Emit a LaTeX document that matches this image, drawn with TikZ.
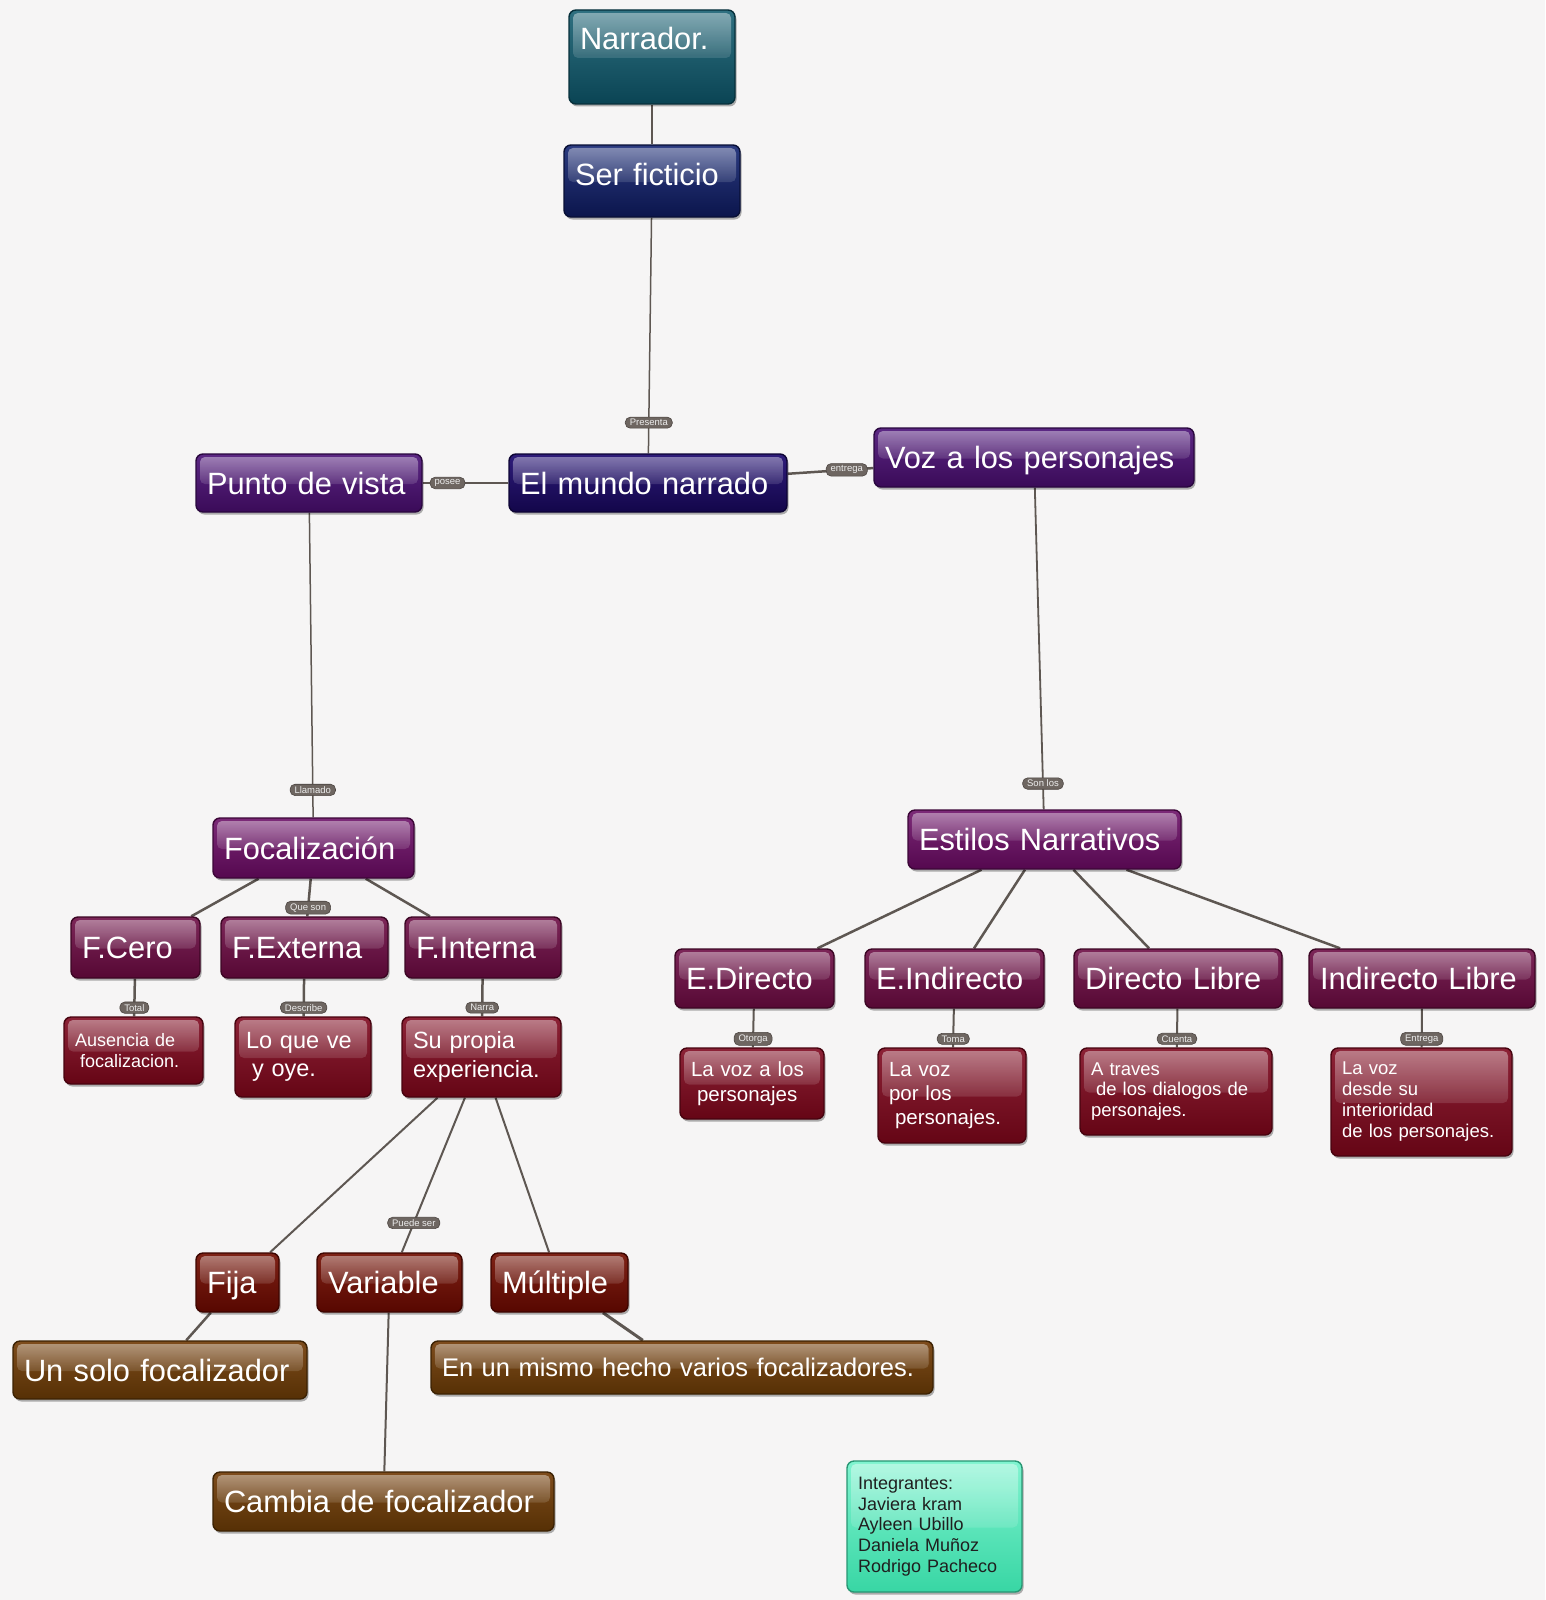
\documentclass[tikz,border=0pt]{standalone}
\usepackage{fontspec}
\setmainfont{Liberation Sans}
\usetikzlibrary{shadows,fadings,backgrounds}
\definecolor{bgC}{HTML}{F6F5F5}
\definecolor{tealT}{HTML}{2F7080}\definecolor{tealB}{HTML}{0A4454}
\definecolor{navyT}{HTML}{2B3B80}\definecolor{navyB}{HTML}{0B154C}
\definecolor{indT}{HTML}{2E1C7A}\definecolor{indB}{HTML}{13064A}
\definecolor{purT}{HTML}{5C2884}\definecolor{purB}{HTML}{3A0A58}
\definecolor{plumT}{HTML}{7C2A78}\definecolor{plumB}{HTML}{55084F}
\definecolor{wineT}{HTML}{7C2658}\definecolor{wineB}{HTML}{560834}
\definecolor{crimT}{HTML}{8C2236}\definecolor{crimB}{HTML}{650515}
\definecolor{rustT}{HTML}{7E2216}\definecolor{rustB}{HTML}{570700}
\definecolor{brownT}{HTML}{7E4C1C}\definecolor{brownB}{HTML}{563005}
\definecolor{mintT}{HTML}{80F4D0}\definecolor{mintB}{HTML}{38D6A4}
\definecolor{lineC}{HTML}{5E5752}
\definecolor{labC}{HTML}{6E6661}\definecolor{labD}{HTML}{4C4541}\definecolor{labT}{HTML}{EDEDED}
\newcommand{\fsz}[2]{\fontsize{#1}{#2}\selectfont}
\tikzset{
  box/.style={rectangle, rounded corners=7pt, line width=1.4pt, inner xsep=11pt, inner ysep=0pt,
    align=left, text=white,
    drop shadow={shadow xshift=1.5pt, shadow yshift=-2.5pt, opacity=0.3, fill=black},
    path picture={
      \fill[white, opacity=0.12, rounded corners=5pt]
        ([xshift=4pt,yshift=-3pt]path picture bounding box.north west) rectangle
        ([xshift=-4pt,yshift=-1pt]path picture bounding box.east);
      \fill[white, opacity=0.32, path fading=south, rounded corners=5pt]
        ([xshift=4pt,yshift=-3pt]path picture bounding box.north west) rectangle
        ([xshift=-4pt,yshift=-1pt]path picture bounding box.east);
    }},
  colr/.style 2 args={top color=#1, bottom color=#2, draw=#2!70!black},
  cteal/.style={colr={tealT}{tealB}},
  cnavy/.style={colr={navyT}{navyB}},
  cindigo/.style={colr={indT}{indB}},
  cpurple/.style={colr={purT}{purB}},
  cplum/.style={colr={plumT}{plumB}},
  cwine/.style={colr={wineT}{wineB}},
  ccrim/.style={colr={crimT}{crimB}},
  crust/.style={colr={rustT}{rustB}},
  cbrown/.style={colr={brownT}{brownB}},
  cmint/.style={colr={mintT}{mintB}, text=black!88},
  big/.style={font=\fsz{30.8}{35}, text height=22pt, text depth=0pt},
  conn/.style={draw=lineC, line width=#1},
  conn/.default=2pt,
  lab/.style={fill=labC, draw=labD, line width=0.6pt, rounded corners=5pt, text=labT,
    font=\fsz{9.5}{10}, inner xsep=4.5pt, inner ysep=2.2pt},
}
\begin{document}
\begin{tikzpicture}[x=1pt,y=-1pt]
\useasboundingbox (0,0) rectangle (1545,1600);
% level 0-2
\node[box,cteal,big,text width=144pt,minimum height=94pt,text depth=36pt] (narr) at (652,57) {Narrador.};
\node[box,cnavy,big,text width=154pt,minimum height=72pt,text depth=13pt] (ser) at (652,181) {Ser ficticio};
\node[box,cindigo,big,text width=256pt,minimum height=58pt] (mundo) at (648,483) {El mundo narrado};
\node[box,cpurple,big,text width=204pt,minimum height=58pt] (punto) at (309,483) {Punto de vista};
\node[box,cpurple,big,text width=298pt,minimum height=59pt] (voz) at (1034,457.5) {Voz a los personajes};
\node[box,cplum,big,text width=179pt,minimum height=60pt] (focal) at (313.5,848) {Focalización};
\node[box,cplum,big,text width=251pt,minimum height=59pt] (estilos) at (1044.5,839.5) {Estilos Narrativos};
% focalization types
\node[box,cwine,big,text width=107pt,minimum height=61pt] (fcero) at (135.5,947.5) {F.Cero};
\node[box,cwine,big,text width=145pt,minimum height=61pt] (fext) at (304.5,947.5) {F.Externa};
\node[box,cwine,big,text width=134pt,minimum height=61pt] (fint) at (483,947.5) {F.Interna};
\node[box,ccrim,font=\fsz{18}{21},text width=117pt,minimum height=67pt] (ausencia) at (133.5,1050.5) {Ausencia de\\\hspace*{5pt}focalizacion.};
\node[box,ccrim,font=\fsz{23.5}{28.5},text width=114pt,minimum height=80pt] (loque) at (303,1057) {Lo que ve\\\hspace*{6pt}y oye.};
\node[box,ccrim,font=\fsz{23.5}{28.5},text width=137pt,minimum height=80pt] (supropia) at (481.5,1057) {Su propia\\experiencia.};
% styles
\node[box,cwine,big,text width=137pt,minimum height=59pt] (edir) at (754.5,978.5) {E.Directo};
\node[box,cwine,big,text width=157pt,minimum height=59pt] (eind) at (954.5,978.5) {E.Indirecto};
\node[box,cwine,big,text width=186pt,minimum height=59pt] (dlib) at (1178,978.5) {Directo Libre};
\node[box,cwine,big,text width=204pt,minimum height=59pt] (ilib) at (1422,978.5) {Indirecto Libre};
\node[box,ccrim,font=\fsz{20.5}{24.5},text width=122pt,minimum height=71pt] (lavoza) at (752,1083.5) {La voz a los\\\hspace*{6pt}personajes};
\node[box,ccrim,font=\fsz{20.5}{24},text width=126pt,minimum height=95pt] (lavozb) at (952,1095.5) {La voz\\por los\\\hspace*{6pt}personajes.};
\node[box,ccrim,font=\fsz{18.5}{20.5},text width=170pt,minimum height=87pt] (atraves) at (1176,1091.5) {A traves\\\hspace*{5pt}de los dialogos de\\personajes.};
\node[box,ccrim,font=\fsz{18.5}{21},text width=159pt,minimum height=108pt] (lavozc) at (1421.5,1102) {La voz\\desde su\\interioridad\\de los personajes.};
% internal focalization
\node[box,crust,big,text width=61pt,minimum height=59pt] (fija) at (237.5,1282.5) {Fija};
\node[box,crust,big,text width=123pt,minimum height=59pt] (variable) at (389.5,1282.5) {Variable};
\node[box,crust,big,text width=115pt,minimum height=59pt] (multiple) at (559.5,1282.5) {Múltiple};
\node[box,cbrown,big,text width=272pt,minimum height=58pt] (unsolo) at (160,1370) {Un solo focalizador};
\node[box,cbrown,font=\fsz{25.5}{30},text height=18.3pt,text depth=0pt,text width=480pt,minimum height=53pt] (enun) at (682,1367.5) {En un mismo hecho varios focalizadores.};
\node[box,cbrown,big,text width=319pt,minimum height=59pt] (cambia) at (383.5,1501.5) {Cambia de focalizador};
% members
\node[box,cmint,font=\fsz{18}{20.8},text width=153pt,minimum height=131pt] (integ) at (934.5,1526.5) {Integrantes:\\Javiera kram\\Ayleen Ubillo\\Daniela Muñoz\\Rodrigo Pacheco};
\begin{pgfonlayer}{background}
\fill[bgC] (0,0) rectangle (1545,1600);
\draw[conn=2pt] (narr) -- (ser);
\draw[conn=1.5pt] (ser) -- node[lab,pos=0.87] (lpres) {Presenta} (mundo);
\draw[conn=2.5pt] (punto) -- node[lab,pos=0.29] (lposee) {posee} (mundo);
\draw[conn=2.5pt] (mundo) -- node[lab,pos=0.69] (lentr) {entrega} (voz);
\draw[conn=1.5pt] (punto) -- node[lab,pos=0.91] (lllam) {Llamado} (focal);
\draw[conn=1.8pt] (voz) -- node[lab,pos=0.92] (lson) {Son los} (estilos);
\draw[conn=2.5pt] (focal) -- (fcero);
\draw[conn=2.5pt] (focal) -- node[lab,pos=0.77] (lque) {Que son} (fext);
\draw[conn=2.5pt] (focal) -- (fint);
\draw[conn=2.5pt] (fcero) -- node[lab,pos=0.77] (ltot) {Total} (ausencia);
\draw[conn=2.5pt] (fext) -- node[lab,pos=0.77] (ldes) {Describe} (loque);
\draw[conn=2.5pt] (fint) -- node[lab,pos=0.77] (lnar) {Narra} (supropia);
\draw[conn=2.5pt] (estilos) -- (edir);
\draw[conn=2.5pt] (estilos) -- (eind);
\draw[conn=2.5pt] (estilos) -- (dlib);
\draw[conn=2.5pt] (estilos) -- (ilib);
\draw[conn=2pt] (edir) -- node[lab,pos=0.78] (lotor) {Otorga} (lavoza);
\draw[conn=2pt] (eind) -- node[lab,pos=0.78] (ltoma) {Toma} (lavozb);
\draw[conn=2pt] (dlib) -- node[lab,pos=0.78] (lcuen) {Cuenta} (atraves);
\draw[conn=2pt] (ilib) -- node[lab,pos=0.78] (lentg) {Entrega} (lavozc);
\draw[conn=2pt] (supropia) -- (fija);
\draw[conn=2pt] (supropia) -- node[lab,pos=0.81] (lpued) {Puede ser} (variable);
\draw[conn=2pt] (supropia) -- (multiple);
\draw[conn=2.5pt] (fija) -- (unsolo);
\draw[conn=2pt] (variable) -- (cambia);
\draw[conn=3pt] (multiple) -- (enun);
\end{pgfonlayer}
\end{tikzpicture}
\end{document}
